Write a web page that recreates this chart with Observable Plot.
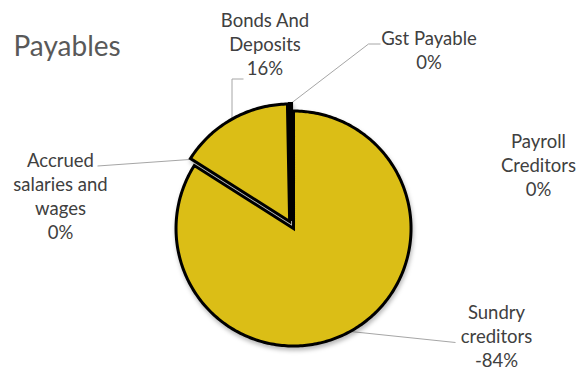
<!DOCTYPE html>
<html>
<head>
<meta charset="utf-8">
<script src="https://cdn.jsdelivr.net/npm/d3@7"></script>
<script src="https://cdn.jsdelivr.net/npm/@observablehq/plot@0.6"></script>
<style>
  body { margin: 0; background: #fff; }
  .pie { filter: drop-shadow(1px 3px 2px rgba(0,0,0,0.28)); }
</style>
</head>
<body>
<div id="chart"></div>
<script>
// ---- data ----
const title = "Payables";
const categories = ["Sundry creditors", "Accrued salaries and wages", "Bonds And Deposits", "Gst Payable", "Payroll Creditors"];
const values = [-84.0, 0.0, 15.7, 0.3, 0.0];   // share of total (absolute), sign kept as in source
const labelLines = [
  ["Sundry", "creditors"],
  ["Accrued", "salaries and", "wages"],
  ["Bonds And", "Deposits"],
  ["Gst Payable"],
  ["Payroll", "Creditors"]
];

// ---- layout (pixels) ----
const W = 578, H = 370;
const CX = 291.1, CY = 224.5, R = 117.5, EXPLODE = 4;
const FILL = "#DBBE16";
const labelPos = { // centre x, baseline of last line
  "Sundry creditors": [496, 366],
  "Accrued salaries and wages": [60, 238],
  "Bonds And Deposits": [264.5, 74],
  "Gst Payable": [428.5, 68],
  "Payroll Creditors": [538, 195]
};
const leaderPath = {
  "Sundry creditors": [[350, 331], [455, 342]],
  "Accrued salaries and wages": [[189, 159], [97, 165.5]],
  "Bonds And Deposits": [[231.5, 121], [231.5, 78.5], [243, 78.5]],
  "Gst Payable": [[289, 104], [368, 43.5], [380, 43.5]]
};
const ux = px => (px - CX) / R;
const uy = py => (CY - py) / R;

// ---- slices ----
const total = d3.sum(values, v => Math.abs(v));
let acc = 0;
const slices = categories.map((name, i) => {
  const a0 = acc / total * 2 * Math.PI;
  acc += Math.abs(values[i]);
  const a1 = acc / total * 2 * Math.PI;
  return {name, value: values[i], a0, a1, pct: Math.round(values[i] / total * 100)};
});
const e = EXPLODE / R;
const piePts = [];
for (const s of slices) {
  if (!(s.a1 > s.a0)) continue;
  const mid = (s.a0 + s.a1) / 2;
  const ox = e * Math.sin(mid), oy = e * Math.cos(mid);
  piePts.push({name: s.name, x: ox, y: oy});
  const n = Math.max(2, Math.ceil((s.a1 - s.a0) / (Math.PI / 180)));
  for (let k = 0; k <= n; k++) {
    const a = s.a0 + (s.a1 - s.a0) * k / n;
    piePts.push({name: s.name, x: ox + Math.sin(a), y: oy + Math.cos(a)});
  }
}

const leaderPts = [];
for (const [name, path] of Object.entries(leaderPath))
  for (const [px, py] of path) leaderPts.push({name, x: ux(px), y: uy(py)});

const labels = slices.map((s, i) => ({
  x: ux(labelPos[s.name][0]),
  y: uy(labelPos[s.name][1]),
  text: labelLines[i].join("\n") + "\n" + (Object.is(s.pct, -0) ? 0 : s.pct) + "%"
}));

const chart = Plot.plot({
  width: W,
  height: H,
  margin: 0,
  style: {fontFamily: "Lato, 'Open Sans', sans-serif", background: "#fff", overflow: "visible"},
  x: {domain: [-1, 1], range: [CX - R, CX + R], axis: null},
  y: {domain: [-1, 1], range: [CY + R, CY - R], axis: null},
  marks: [
    Plot.line(leaderPts, {x: "x", y: "y", z: "name", stroke: "#A6A6A6", strokeWidth: 1, strokeLinejoin: "miter", strokeLinecap: "butt"}),
    Plot.line(piePts, {x: "x", y: "y", z: "name", curve: "linear-closed", fill: FILL, stroke: "#000", strokeWidth: 3, strokeLinejoin: "miter", strokeMiterlimit: 4, className: "pie"}),
    Plot.text(labels, {x: "x", y: "y", text: "text", textAnchor: "middle", lineAnchor: "bottom", fontSize: 18.5, lineHeight: 24 / 18.5, fill: "#404040"}),
    Plot.text([title], {frameAnchor: "top-left", dx: 13, dy: 55, lineAnchor: "bottom", textAnchor: "start", fontSize: 28, fill: "#595959"})
  ]
});
document.getElementById("chart").append(chart);
</script>
</body>
</html>
